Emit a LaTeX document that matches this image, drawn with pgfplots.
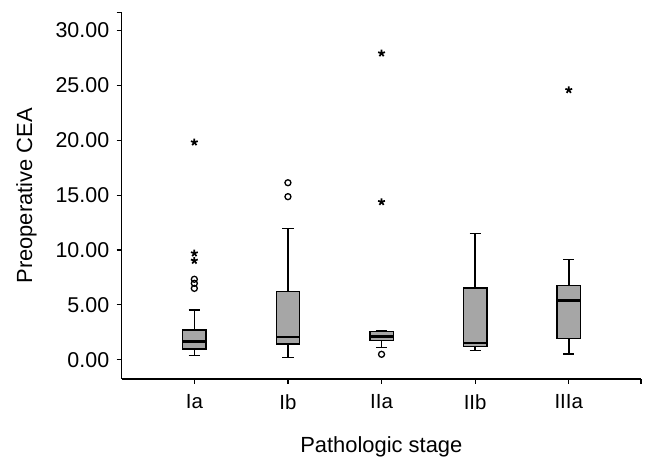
\documentclass[border=0pt]{standalone}
\usepackage{pgfplots}
\pgfplotsset{compat=1.18}
\usepgfplotslibrary{statistics}
\usepackage{fontspec}
\setmainfont{Liberation Sans}
\definecolor{boxgray}{RGB}{166,166,166}
\begin{document}
\begin{tikzpicture}[x=1bp,y=1bp]
\useasboundingbox (0,0) rectangle (654,466);
\begin{axis}[
  at={(121.7bp,87bp)}, anchor=south west,
  scale only axis, width=519.3bp, height=366.3bp,
  xmin=0.224, xmax=5.772, ymin=-1.76, ymax=31.63,
  axis x line*=bottom, axis y line*=left,
  axis line style={line width=1.2bp, -},
  every tick/.style={black, line width=1.2bp},
  tick align=outside, major tick length=5bp,
  xtick={1,2,3,4,5}, xticklabels={Ia,Ib,IIa,IIb,IIIa},
  ytick={0,5,10,15,20,25,30},
  extra y ticks={31.63}, extra y tick labels={},
  extra x ticks={5.772}, extra x tick labels={},
  extra tick style={major tick length=5bp},
  /pgf/number format/fixed, /pgf/number format/fixed zerofill, /pgf/number format/precision=2,
  /pgf/number format/assume math mode=true,
  yticklabel style={font=\fontsize{21.5}{26}\selectfont, xshift=-4bp},
  xticklabel style={font=\fontsize{20.5}{24}\selectfont, yshift=-7bp},
  label style={font=\fontsize{22}{26}\selectfont},
  xlabel={Pathologic stage}, ylabel={Preoperative CEA},
  xlabel style={yshift=-10bp},
  ylabel style={yshift=2bp},
  boxplot/draw direction=y,
  boxplot/every box/.style={fill=boxgray, draw=black, line width=1.4bp},
  boxplot/every whisker/.style={draw=black, line width=1.5bp},
  boxplot/every median/.style={draw=black, line width=2.6bp},
  boxplot/box extend=0.25, boxplot/whisker extend=0.12,
  clip=false,
]
\addplot[black, line width=1.4bp, boxplot prepared={draw position=1, lower whisker=0.365, lower quartile=0.975, median=1.64, upper quartile=2.71, upper whisker=4.53}] coordinates {};
\addplot[black, line width=1.4bp, boxplot prepared={draw position=2, lower whisker=0.22, lower quartile=1.43, median=2.07, upper quartile=6.2, upper whisker=11.94}] coordinates {};
\addplot[black, line width=1.4bp, boxplot prepared={draw position=3, lower whisker=1.09, lower quartile=1.73, median=2.1, upper quartile=2.55, upper whisker=2.6}] coordinates {};
\addplot[black, line width=1.4bp, boxplot prepared={draw position=4, lower whisker=0.86, lower quartile=1.19, median=1.52, upper quartile=6.54, upper whisker=11.52}] coordinates {};
\addplot[black, line width=1.4bp, boxplot prepared={draw position=5, lower whisker=0.52, lower quartile=1.91, median=5.38, upper quartile=6.75, upper whisker=9.12}] coordinates {};
% circles (outliers)
\addplot[only marks, mark=o, mark size=3bp, mark options={line width=1.3bp, black}] coordinates {
 (1,7.33) (1,6.96) (1,6.5) (2,16.13) (2,14.86) (3,0.49)};
% stars (extreme values)
\addplot[only marks, mark=star, mark size=3.6bp, mark options={line width=1.7bp, black}] coordinates {
 (1,19.82) (1,9.7) (1,9.03) (3,27.93) (3,14.38) (5,24.59)};
\end{axis}
\end{tikzpicture}
\end{document}
